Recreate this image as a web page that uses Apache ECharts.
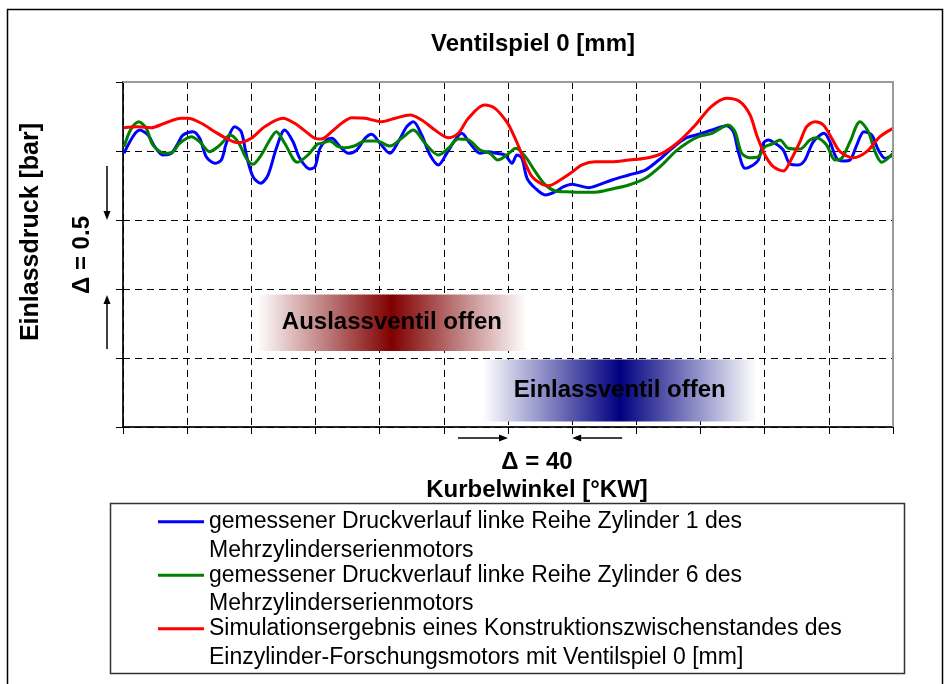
<!DOCTYPE html>
<html lang="de">
<head>
<meta charset="utf-8">
<title>Ventilspiel 0 [mm]</title>
<script src="https://cdn.jsdelivr.net/npm/echarts@6/dist/echarts.min.js"></script>
<style>
    html, body { margin: 0; padding: 0; background: #fff; }
    #chart { width: 952px; height: 684px; }
</style>
</head>
<body>
<div id="chart"></div>
<script>
    // Achsen ohne Zahlen: eine Teilung = 40 °KW bzw. 0.5 bar
    var xRange = [0, 480, 40];
    var yRange = [0, 2.5, 0.5];

    var seriesNames = [
        'gemessener Druckverlauf linke Reihe Zylinder 1 des\nMehrzylinderserienmotors',
        'gemessener Druckverlauf linke Reihe Zylinder 6 des\nMehrzylinderserienmotors',
        'Simulationsergebnis eines Konstruktionszwischenstandes des\nEinzylinder-Forschungsmotors mit Ventilspiel 0 [mm]'
    ];

    var zyl1 = [[0.6,1.983],[10.4,2.152],[15.6,2.116],[19.8,2.031],[24.9,1.971],[30.1,1.983],[34.3,2.056],[37.4,2.116],[43.6,2.140],[47.8,2.092],[51.9,1.959],[57.2,1.911],[61.3,1.935],[64.4,2.056],[69.6,2.176],[73.7,2.140],[76.9,1.971],[81.0,1.814],[85.8,1.766],[90.4,1.826],[95.6,2.020],[100.8,2.152],[106.0,2.067],[110.2,1.947],[116.4,1.870],[119.7,1.886],[122.8,2.020],[127.0,2.080],[130.1,2.092],[135.3,2.031],[140.5,1.983],[145.7,2.007],[150.9,2.092],[155.0,2.121],[160.2,2.056],[166.4,1.983],[171.6,2.067],[176.9,2.176],[181.0,2.212],[186.2,2.116],[191.4,1.971],[196.6,1.899],[201.8,1.983],[207.0,2.080],[211.1,2.128],[216.3,2.056],[222.6,1.983],[227.7,1.995],[233.0,1.983],[238.1,1.971],[242.5,1.911],[245.6,1.971],[248.7,1.947],[251.9,1.802],[257.0,1.730],[263.3,1.681],[269.5,1.705],[274.7,1.741],[279.9,1.759],[284.1,1.749],[290.3,1.734],[296.6,1.754],[304.8,1.790],[315.3,1.826],[325.6,1.862],[334.0,1.935],[342.3,2.020],[350.5,2.092],[358.9,2.121],[367.2,2.152],[376.3,2.183],[380.5,2.140],[383.6,1.995],[387.8,1.875],[392.9,1.899],[396.1,1.935],[399.2,2.056],[402.3,2.080],[406.5,2.056],[411.6,2.007],[415.8,1.906],[421.0,1.899],[425.1,1.935],[430.3,2.067],[437.0,2.128],[440.7,2.067],[444.9,1.947],[449.0,1.928],[453.2,1.935],[457.4,2.043],[461.9,2.140],[466.7,2.116],[470.9,2.007],[475.0,1.947],[480,1.971]];

    var zyl6 = [[0.6,2.031],[5.2,2.164],[9.8,2.212],[14.5,2.164],[18.7,2.043],[26.0,1.983],[31.2,1.995],[35.3,2.056],[42.6,2.104],[47.8,2.067],[54.0,1.995],[59.2,2.031],[63.4,2.080],[66.5,2.116],[71.7,2.067],[76.9,1.947],[81.0,1.904],[86.2,1.971],[91.5,2.080],[95.6,2.140],[100.8,2.056],[108.7,1.918],[115.3,1.971],[121.1,2.049],[123.9,2.056],[129.0,2.072],[134.2,2.031],[138.4,2.024],[144.6,2.038],[150.9,2.072],[158.2,2.072],[166.4,2.036],[173.7,2.092],[181.0,2.152],[188.3,2.056],[196.6,1.971],[202.8,2.020],[209.0,2.087],[215.3,2.080],[222.6,2.007],[228.8,1.983],[233.6,1.935],[239.2,1.971],[245.0,2.020],[250.8,1.959],[257.0,1.850],[263.3,1.754],[269.5,1.710],[275.7,1.705],[284.1,1.701],[294.4,1.701],[304.8,1.725],[315.3,1.754],[325.6,1.802],[336.0,1.899],[344.3,1.995],[352.7,2.067],[358.9,2.104],[367.2,2.128],[377.3,2.188],[381.5,2.140],[385.7,1.983],[390.9,1.951],[396.1,1.959],[400.2,2.031],[404.4,2.049],[409.6,2.080],[414.7,2.020],[422.0,2.014],[428.2,2.080],[432.4,2.096],[438.6,2.043],[443.8,1.935],[448.0,1.947],[453.2,2.067],[459.4,2.212],[464.6,2.140],[468.8,1.995],[473.0,1.918],[480,1.983]];

    var simulation = [[0.6,2.169],[9.4,2.176],[17.6,2.169],[26.0,2.201],[36.3,2.237],[40.5,2.237],[48.8,2.201],[57.2,2.140],[64.4,2.092],[71.7,2.060],[80.0,2.092],[88.3,2.176],[99.7,2.237],[107.0,2.201],[115.3,2.128],[119.7,2.092],[123.9,2.087],[130.1,2.140],[136.3,2.201],[142.6,2.241],[150.9,2.237],[161.3,2.212],[169.6,2.237],[178.9,2.261],[186.2,2.225],[194.5,2.152],[202.8,2.096],[209.0,2.128],[215.3,2.237],[225.2,2.333],[231.9,2.309],[239.2,2.212],[242.5,2.140],[246.7,2.031],[250.8,1.911],[255.0,1.814],[261.2,1.759],[265.4,1.749],[271.6,1.783],[278.9,1.838],[286.1,1.899],[294.4,1.922],[304.8,1.922],[315.3,1.935],[325.6,1.947],[336.0,1.983],[346.4,2.067],[356.8,2.188],[366.7,2.321],[376.3,2.382],[384.6,2.357],[390.9,2.261],[395.0,2.116],[400.2,1.971],[405.4,1.886],[411.6,1.855],[416.9,1.947],[422.0,2.067],[426.2,2.176],[431.4,2.212],[436.6,2.188],[441.8,2.092],[447.0,1.995],[455.3,1.951],[463.6,1.995],[471.9,2.104],[480,2.164]];

    // Ventil-Öffnungsbalken: [x von, x bis, y von, y bis]
    var auslassBand = [83.5, 251.7, 0.55, 0.96];
    var einlassBand = [224.3, 395, 0.04, 0.49];

    // Delta-Pfeile (Zielwerte auf den Achsen)
    var deltaX = [240, 280];
    var deltaY = [1.5, 1.0];

    var boldFont = 'bold 24px "Liberation Sans", Arial, sans-serif';

    function band(r, color, text) {
        return [{
            xAxis: r[0], yAxis: r[3],
            itemStyle: {
                opacity: 1,
                color: new echarts.graphic.LinearGradient(0, 0, 1, 0, [
                    { offset: 0, color: '#ffffff' },
                    { offset: 0.5, color: color },
                    { offset: 1, color: '#ffffff' }
                ])
            },
            label: {
                show: true, position: 'inside', formatter: text,
                color: '#000', fontSize: 24, fontWeight: 'bold', fontFamily: 'Liberation Sans'
            }
        }, { xAxis: r[1], yAxis: r[2] }];
    }

    function arrow(x1, y1, x2, y2) {
        var a = Math.atan2(y2 - y1, x2 - x1);
        var L = 9, W = 3.5;
        var bx = x2 - L * Math.cos(a), by = y2 - L * Math.sin(a);
        var px = -Math.sin(a) * W, py = Math.cos(a) * W;
        return [
            { type: 'line', shape: { x1: x1, y1: y1, x2: bx, y2: by }, style: { stroke: '#000', lineWidth: 1.5 } },
            { type: 'polygon', shape: { points: [[x2, y2], [bx + px, by + py], [bx - px, by - py]] }, style: { fill: '#000' } }
        ];
    }

    var chart = echarts.init(document.getElementById('chart'));
    var lineW = 3;
    var splitStyle = { type: [7, 5], color: '#000', width: 1 };

    chart.setOption({
        animation: false,
        title: {
            text: 'Ventilspiel 0 [mm]',
            left: 528, top: 27, textAlign: 'center',
            textStyle: { fontSize: 24, fontWeight: 'bold', fontFamily: 'Liberation Sans', color: '#000' }
        },
        legend: {
            orient: 'vertical',
            left: 158, top: 479,
            padding: 0,
            itemGap: -32,
            itemWidth: 46, itemHeight: 3,
            icon: 'rect',
            // leere erste Zeile, damit die Linie auf Höhe der ersten Textzeile steht
            formatter: function (name) { return '\n' + name; },
            textStyle: { fontFamily: 'Liberation Sans', fontSize: 23, color: '#000', lineHeight: 28.5 },
            data: seriesNames
        },
        grid: {
            left: 123, top: 82, right: 59, bottom: 257,
            show: true, borderColor: '#9a9a9a', borderWidth: 2
        },
        xAxis: {
            type: 'value', min: xRange[0], max: xRange[1], interval: xRange[2],
            axisLine: { lineStyle: { color: '#000', width: 1.5 } },
            axisTick: { show: true, length: 7, lineStyle: { color: '#000' } },
            axisLabel: { show: false },
            splitLine: { show: true, lineStyle: splitStyle }
        },
        yAxis: {
            type: 'value', min: yRange[0], max: yRange[1], interval: yRange[2],
            axisLine: { show: true, lineStyle: { color: '#000', width: 1.5 } },
            axisTick: { show: true, length: 7, lineStyle: { color: '#000' } },
            axisLabel: { show: false },
            splitLine: { show: true, lineStyle: splitStyle }
        },
        series: [
            {
                name: seriesNames[0], type: 'line', data: zyl1, symbol: 'none', smooth: 0.3,
                color: '#0000ff', lineStyle: { width: lineW, color: '#0000ff' },
                markArea: {
                    silent: true,
                    data: [band(auslassBand, '#800000', 'Auslassventil offen'),
                           band(einlassBand, '#000080', 'Einlassventil offen')]
                }
            },
            {
                name: seriesNames[1], type: 'line', data: zyl6, symbol: 'none', smooth: 0.3,
                color: '#008000', lineStyle: { width: lineW, color: '#008000' }
            },
            {
                name: seriesNames[2], type: 'line', data: simulation, symbol: 'none', smooth: 0.3,
                color: '#ff0000', lineStyle: { width: lineW, color: '#ff0000' }
            }
        ]
    });

    // Beschriftungen und Pfeile relativ zu den Achsen
    var xa = chart.convertToPixel({ xAxisIndex: 0 }, deltaX[0]);
    var xb = chart.convertToPixel({ xAxisIndex: 0 }, deltaX[1]);
    var ya = chart.convertToPixel({ yAxisIndex: 0 }, deltaY[0]);
    var yb = chart.convertToPixel({ yAxisIndex: 0 }, deltaY[1]);
    var x0 = chart.convertToPixel({ xAxisIndex: 0 }, xRange[0]);
    var x1 = chart.convertToPixel({ xAxisIndex: 0 }, xRange[1]);
    var y0 = chart.convertToPixel({ yAxisIndex: 0 }, yRange[0]);
    var y1 = chart.convertToPixel({ yAxisIndex: 0 }, yRange[1]);
    var arrowY = 438, arrowX = 107;
    var borderStyle = { stroke: '#9a9a9a', lineWidth: 2 };

    var gfx = [
        { type: 'rect', shape: { x: 7.5, y: 9.5, width: 935, height: 720 }, style: { fill: 'none', stroke: '#000', lineWidth: 1.5 }, silent: true },
        { type: 'rect', shape: { x: 110.5, y: 503.5, width: 794, height: 170 }, style: { fill: 'none', stroke: '#333', lineWidth: 1.5 }, silent: true, z: -1 },
        // graue Rahmenlinien oben und rechts über den gestrichelten Gitterlinien
        { type: 'line', z: 100, shape: { x1: x0, y1: y1, x2: x1, y2: y1 }, style: borderStyle },
        { type: 'line', z: 100, shape: { x1: x1, y1: y1, x2: x1, y2: y0 }, style: borderStyle },
        { type: 'text', x: 31, y: 232, rotation: Math.PI / 2,
          style: { text: 'Einlassdruck [bar]', font: 'bold 25px "Liberation Sans", Arial, sans-serif', fill: '#000', align: 'center', verticalAlign: 'middle' } },
        { type: 'text', x: 82, y: 255, rotation: Math.PI / 2,
          style: { text: 'Δ = 0.5', font: boldFont, fill: '#000', align: 'center', verticalAlign: 'middle' } },
        { type: 'text', x: 537, y: 462,
          style: { text: 'Δ = 40', font: boldFont, fill: '#000', align: 'center', verticalAlign: 'middle' } },
        { type: 'text', x: 537, y: 490,
          style: { text: 'Kurbelwinkel [°KW]', font: boldFont, fill: '#000', align: 'center', verticalAlign: 'middle' } }
    ];
    gfx = gfx.concat(arrow(xa - 50, arrowY, xa, arrowY));
    gfx = gfx.concat(arrow(xb + 50, arrowY, xb, arrowY));
    gfx = gfx.concat(arrow(arrowX, ya - 54, arrowX, ya));
    gfx = gfx.concat(arrow(arrowX, yb + 60, arrowX, yb + 6));

    chart.setOption({ graphic: gfx });
</script>
</body>
</html>
